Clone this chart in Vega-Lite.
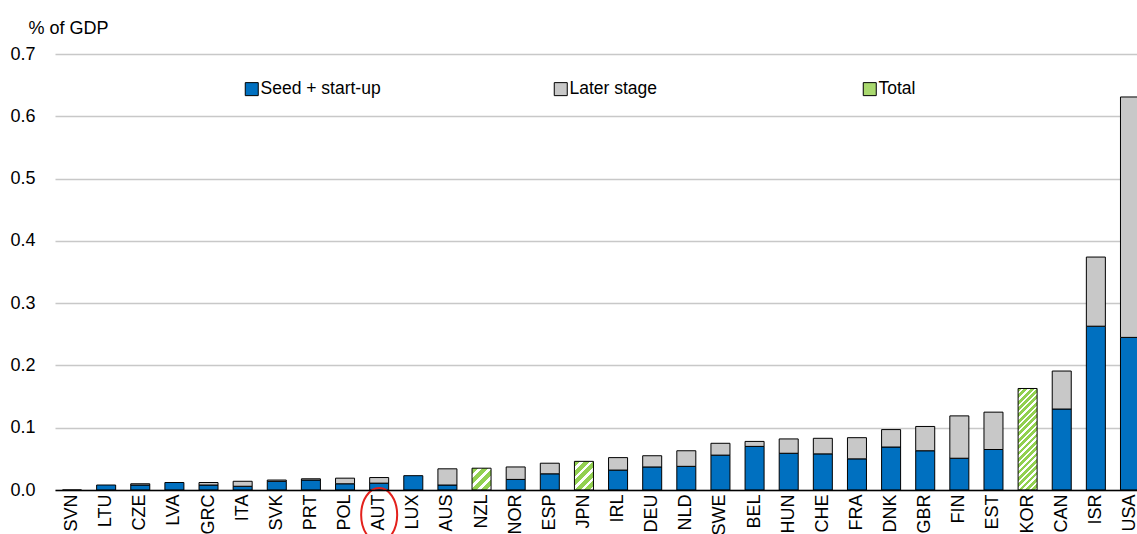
{
  "$schema": "https://vega.github.io/schema/vega-lite/v6.json",
  "width": 1092,
  "height": 436,
  "autosize": {"type": "none"},
  "padding": {"left": 55, "top": 54, "right": 0, "bottom": 44},
  "background": "white",
  "config": {"view": {"stroke": null}, "font": "Liberation Sans"},
  "data": {"values": [
    {"country": "SVN", "series": "Seed + start-up", "value": 0},
    {"country": "LTU", "series": "Seed + start-up", "value": 0.008},
    {"country": "CZE", "series": "Seed + start-up", "value": 0.008},
    {"country": "CZE", "series": "Later stage", "value": 0.002},
    {"country": "LVA", "series": "Seed + start-up", "value": 0.012},
    {"country": "GRC", "series": "Seed + start-up", "value": 0.008},
    {"country": "GRC", "series": "Later stage", "value": 0.004},
    {"country": "ITA", "series": "Seed + start-up", "value": 0.006},
    {"country": "ITA", "series": "Later stage", "value": 0.008},
    {"country": "SVK", "series": "Seed + start-up", "value": 0.014},
    {"country": "SVK", "series": "Later stage", "value": 0.002},
    {"country": "PRT", "series": "Seed + start-up", "value": 0.016},
    {"country": "PRT", "series": "Later stage", "value": 0.002},
    {"country": "POL", "series": "Seed + start-up", "value": 0.010},
    {"country": "POL", "series": "Later stage", "value": 0.009},
    {"country": "AUT", "series": "Seed + start-up", "value": 0.011},
    {"country": "AUT", "series": "Later stage", "value": 0.009},
    {"country": "LUX", "series": "Seed + start-up", "value": 0.023},
    {"country": "AUS", "series": "Seed + start-up", "value": 0.008},
    {"country": "AUS", "series": "Later stage", "value": 0.026},
    {"country": "NZL", "series": "Total", "value": 0.035},
    {"country": "NOR", "series": "Seed + start-up", "value": 0.017},
    {"country": "NOR", "series": "Later stage", "value": 0.020},
    {"country": "ESP", "series": "Seed + start-up", "value": 0.026},
    {"country": "ESP", "series": "Later stage", "value": 0.017},
    {"country": "JPN", "series": "Total", "value": 0.046},
    {"country": "IRL", "series": "Seed + start-up", "value": 0.032},
    {"country": "IRL", "series": "Later stage", "value": 0.020},
    {"country": "DEU", "series": "Seed + start-up", "value": 0.037},
    {"country": "DEU", "series": "Later stage", "value": 0.018},
    {"country": "NLD", "series": "Seed + start-up", "value": 0.038},
    {"country": "NLD", "series": "Later stage", "value": 0.025},
    {"country": "SWE", "series": "Seed + start-up", "value": 0.056},
    {"country": "SWE", "series": "Later stage", "value": 0.019},
    {"country": "BEL", "series": "Seed + start-up", "value": 0.070},
    {"country": "BEL", "series": "Later stage", "value": 0.008},
    {"country": "HUN", "series": "Seed + start-up", "value": 0.059},
    {"country": "HUN", "series": "Later stage", "value": 0.023},
    {"country": "CHE", "series": "Seed + start-up", "value": 0.058},
    {"country": "CHE", "series": "Later stage", "value": 0.025},
    {"country": "FRA", "series": "Seed + start-up", "value": 0.050},
    {"country": "FRA", "series": "Later stage", "value": 0.034},
    {"country": "DNK", "series": "Seed + start-up", "value": 0.069},
    {"country": "DNK", "series": "Later stage", "value": 0.028},
    {"country": "GBR", "series": "Seed + start-up", "value": 0.063},
    {"country": "GBR", "series": "Later stage", "value": 0.039},
    {"country": "FIN", "series": "Seed + start-up", "value": 0.051},
    {"country": "FIN", "series": "Later stage", "value": 0.068},
    {"country": "EST", "series": "Seed + start-up", "value": 0.065},
    {"country": "EST", "series": "Later stage", "value": 0.060},
    {"country": "KOR", "series": "Total", "value": 0.163},
    {"country": "CAN", "series": "Seed + start-up", "value": 0.130},
    {"country": "CAN", "series": "Later stage", "value": 0.061},
    {"country": "ISR", "series": "Seed + start-up", "value": 0.263},
    {"country": "ISR", "series": "Later stage", "value": 0.111},
    {"country": "USA", "series": "Seed + start-up", "value": 0.245},
    {"country": "USA", "series": "Later stage", "value": 0.386}
  ]},
  "encoding": {
    "x": {
      "field": "country",
      "type": "nominal",
      "title": null,
      "scale": {
        "domain": ["SVN","LTU","CZE","LVA","GRC","ITA","SVK","PRT","POL","AUT","LUX","AUS","NZL","NOR","ESP","JPN","IRL","DEU","NLD","SWE","BEL","HUN","CHE","FRA","DNK","GBR","FIN","EST","KOR","CAN","ISR","USA"],
        "paddingInner": 0.443,
        "paddingOuter": 0.22
      },
      "axis": {
        "labelAngle": -90,
        "labelFontSize": 18,
        "labelColor": "black",
        "labelPadding": 4,
        "ticks": false,
        "domainColor": "black",
        "domainWidth": 1.5,
        "zindex": 1
      }
    }
  },
  "layer": [
    {
      "transform": [{"filter": "datum.series !== 'Total'"}],
      "mark": {"type": "bar", "stroke": "black", "strokeWidth": 1},
      "encoding": {
        "y": {
          "field": "value",
          "type": "quantitative",
          "stack": "zero",
          "scale": {"domain": [0, 0.7]},
          "axis": {
            "title": "% of GDP",
            "titleAngle": 0,
            "titleX": -27,
            "titleY": -21,
            "titleAlign": "left",
            "titleBaseline": "alphabetic",
            "titleFontSize": 18,
            "titleFontWeight": "normal",
            "titleColor": "black",
            "values": [0, 0.1, 0.2, 0.3, 0.4, 0.5, 0.6, 0.7],
            "format": ".1f",
            "labelFontSize": 18,
            "labelColor": "black",
            "labelPadding": 20,
            "ticks": false,
            "domain": false,
            "grid": true,
            "gridColor": "#c8c8c8",
            "gridWidth": 1.5
          }
        },
        "fill": {
          "field": "series",
          "type": "nominal",
          "scale": {"domain": ["Seed + start-up", "Later stage", "Total"], "range": ["#0070c0", "#c8c8c8", "#a9d86e"]},
          "legend": {
            "title": null,
            "orient": "none",
            "legendX": 188,
            "legendY": 26,
            "direction": "horizontal",
            "columns": 3,
            "gridAlign": "all",
            "columnPadding": 171,
            "symbolType": "square",
            "symbolSize": 169,
            "symbolStrokeColor": "black",
            "symbolStrokeWidth": 1,
            "labelFontSize": 17.5,
            "labelColor": "black",
            "labelOffset": 0,
            "labelLimit": 300
          }
        },
        "order": {"field": "series", "sort": "descending"}
      }
    },
    {
      "transform": [{"filter": "datum.series === 'Total'"}],
      "mark": {"type": "bar", "stroke": "black", "strokeWidth": 1},
      "encoding": {
        "y": {"field": "value", "type": "quantitative"},
        "fill": {
          "condition": [
            {"test": "datum.country === 'KOR'", "value": {"gradient": "linear", "x1": 0, "y1": 0, "x2": 0.2145, "y2": 1.147, "stops": [
              {"offset": 0, "color": "#92d050"}, {"offset": 0.0316, "color": "#92d050"}, {"offset": 0.0316, "color": "#ffffff"}, {"offset": 0.0526, "color": "#ffffff"},
              {"offset": 0.0526, "color": "#92d050"}, {"offset": 0.0842, "color": "#92d050"}, {"offset": 0.0842, "color": "#ffffff"}, {"offset": 0.1053, "color": "#ffffff"},
              {"offset": 0.1053, "color": "#92d050"}, {"offset": 0.1368, "color": "#92d050"}, {"offset": 0.1368, "color": "#ffffff"}, {"offset": 0.1579, "color": "#ffffff"},
              {"offset": 0.1579, "color": "#92d050"}, {"offset": 0.1895, "color": "#92d050"}, {"offset": 0.1895, "color": "#ffffff"}, {"offset": 0.2105, "color": "#ffffff"},
              {"offset": 0.2105, "color": "#92d050"}, {"offset": 0.2421, "color": "#92d050"}, {"offset": 0.2421, "color": "#ffffff"}, {"offset": 0.2632, "color": "#ffffff"},
              {"offset": 0.2632, "color": "#92d050"}, {"offset": 0.2947, "color": "#92d050"}, {"offset": 0.2947, "color": "#ffffff"}, {"offset": 0.3158, "color": "#ffffff"},
              {"offset": 0.3158, "color": "#92d050"}, {"offset": 0.3474, "color": "#92d050"}, {"offset": 0.3474, "color": "#ffffff"}, {"offset": 0.3684, "color": "#ffffff"},
              {"offset": 0.3684, "color": "#92d050"}, {"offset": 0.4, "color": "#92d050"}, {"offset": 0.4, "color": "#ffffff"}, {"offset": 0.4211, "color": "#ffffff"},
              {"offset": 0.4211, "color": "#92d050"}, {"offset": 0.4526, "color": "#92d050"}, {"offset": 0.4526, "color": "#ffffff"}, {"offset": 0.4737, "color": "#ffffff"},
              {"offset": 0.4737, "color": "#92d050"}, {"offset": 0.5053, "color": "#92d050"}, {"offset": 0.5053, "color": "#ffffff"}, {"offset": 0.5263, "color": "#ffffff"},
              {"offset": 0.5263, "color": "#92d050"}, {"offset": 0.5579, "color": "#92d050"}, {"offset": 0.5579, "color": "#ffffff"}, {"offset": 0.5789, "color": "#ffffff"},
              {"offset": 0.5789, "color": "#92d050"}, {"offset": 0.6105, "color": "#92d050"}, {"offset": 0.6105, "color": "#ffffff"}, {"offset": 0.6316, "color": "#ffffff"},
              {"offset": 0.6316, "color": "#92d050"}, {"offset": 0.6632, "color": "#92d050"}, {"offset": 0.6632, "color": "#ffffff"}, {"offset": 0.6842, "color": "#ffffff"},
              {"offset": 0.6842, "color": "#92d050"}, {"offset": 0.7158, "color": "#92d050"}, {"offset": 0.7158, "color": "#ffffff"}, {"offset": 0.7368, "color": "#ffffff"},
              {"offset": 0.7368, "color": "#92d050"}, {"offset": 0.7684, "color": "#92d050"}, {"offset": 0.7684, "color": "#ffffff"}, {"offset": 0.7895, "color": "#ffffff"},
              {"offset": 0.7895, "color": "#92d050"}, {"offset": 0.8211, "color": "#92d050"}, {"offset": 0.8211, "color": "#ffffff"}, {"offset": 0.8421, "color": "#ffffff"},
              {"offset": 0.8421, "color": "#92d050"}, {"offset": 0.8737, "color": "#92d050"}, {"offset": 0.8737, "color": "#ffffff"}, {"offset": 0.8947, "color": "#ffffff"},
              {"offset": 0.8947, "color": "#92d050"}, {"offset": 0.9263, "color": "#92d050"}, {"offset": 0.9263, "color": "#ffffff"}, {"offset": 0.9474, "color": "#ffffff"},
              {"offset": 0.9474, "color": "#92d050"}, {"offset": 0.9789, "color": "#92d050"}, {"offset": 0.9789, "color": "#ffffff"}, {"offset": 1, "color": "#ffffff"}
            ]}},
            {"test": "datum.country === 'JPN'", "value": {"gradient": "linear", "x1": 0, "y1": 0, "x2": 0.765, "y2": 1.155, "stops": [
              {"offset": 0, "color": "#92d050"}, {"offset": 0.12, "color": "#92d050"}, {"offset": 0.12, "color": "#ffffff"}, {"offset": 0.2, "color": "#ffffff"},
              {"offset": 0.2, "color": "#92d050"}, {"offset": 0.32, "color": "#92d050"}, {"offset": 0.32, "color": "#ffffff"}, {"offset": 0.4, "color": "#ffffff"},
              {"offset": 0.4, "color": "#92d050"}, {"offset": 0.52, "color": "#92d050"}, {"offset": 0.52, "color": "#ffffff"}, {"offset": 0.6, "color": "#ffffff"},
              {"offset": 0.6, "color": "#92d050"}, {"offset": 0.72, "color": "#92d050"}, {"offset": 0.72, "color": "#ffffff"}, {"offset": 0.8, "color": "#ffffff"},
              {"offset": 0.8, "color": "#92d050"}, {"offset": 0.92, "color": "#92d050"}, {"offset": 0.92, "color": "#ffffff"}, {"offset": 1, "color": "#ffffff"}
            ]}}
          ],
          "value": {"gradient": "linear", "x1": 0, "y1": 0, "x2": 0.927, "y2": 1.064, "stops": [
            {"offset": 0, "color": "#92d050"}, {"offset": 0.15, "color": "#92d050"}, {"offset": 0.15, "color": "#ffffff"}, {"offset": 0.25, "color": "#ffffff"},
            {"offset": 0.25, "color": "#92d050"}, {"offset": 0.4, "color": "#92d050"}, {"offset": 0.4, "color": "#ffffff"}, {"offset": 0.5, "color": "#ffffff"},
            {"offset": 0.5, "color": "#92d050"}, {"offset": 0.65, "color": "#92d050"}, {"offset": 0.65, "color": "#ffffff"}, {"offset": 0.75, "color": "#ffffff"},
            {"offset": 0.75, "color": "#92d050"}, {"offset": 0.9, "color": "#92d050"}, {"offset": 0.9, "color": "#ffffff"}, {"offset": 1, "color": "#ffffff"}
          ]}
        }
      }
    },
    {
      "data": {"values": [{"country": "AUT"}]},
      "mark": {"type": "point", "shape": "M0,-1A0.667,1 0 1,1 0,1A0.667,1 0 1,1 0,-1Z", "size": 2916, "filled": false, "stroke": "#e3211c", "strokeWidth": 2, "opacity": 1},
      "encoding": {
        "y": {"datum": -0.04, "type": "quantitative"}
      }
    }
  ]
}
